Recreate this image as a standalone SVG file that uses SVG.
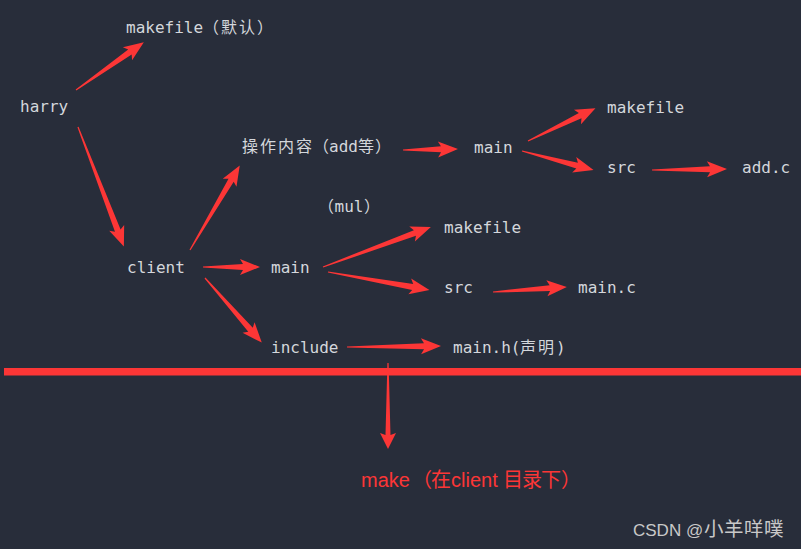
<svg xmlns="http://www.w3.org/2000/svg" width="801" height="549" viewBox="0 0 801 549">
<style>
.t{font-family:"DejaVu Sans Mono","Noto Sans CJK SC",monospace;font-size:16px;fill:#d4d7dc}
.c{font-family:"Noto Sans CJK SC",sans-serif}
.a{fill:#fc3636}
.r{font-family:"Liberation Sans","Noto Sans CJK SC",sans-serif;font-size:20px;fill:#fc3636}
.w{font-family:"Liberation Sans","Noto Sans CJK SC",sans-serif;font-size:17px;fill:#c8c8c8}
</style>
<rect width="801" height="549" fill="#282d3a"/>
<g id="connectors">
<polygon class="a" points="0,-0.6 66,-3 63,-8 83,0 63,8 66,3 0,0.6" transform="translate(76,90) rotate(-35.2)"/>
<polygon class="a" points="0,-0.6 111,-3 108,-8 128,0 108,8 111,3 0,0.6" transform="translate(78,127) rotate(69)"/>
<polygon class="a" points="0,-0.6 81,-3 78,-8 98,0 78,8 81,3 0,0.6" transform="translate(190,250) rotate(-59.5)"/>
<polygon class="a" points="0,-0.6 38,-3 35,-8 55,0 35,8 38,3 0,0.6" transform="translate(403,150) rotate(-1)"/>
<polygon class="a" points="0,-0.6 58,-3 55,-8 75,0 55,8 58,3 0,0.6" transform="translate(528,141) rotate(-25.9)"/>
<polygon class="a" points="0,-0.6 57,-3 54,-8 74,0 54,8 57,3 0,0.6" transform="translate(522,151) rotate(14.8)"/>
<polygon class="a" points="0,-0.6 58,-3 55,-8 75,0 55,8 58,3 0,0.6" transform="translate(652,170) rotate(-0.8)"/>
<polygon class="a" points="0,-0.6 40,-3 37,-8 57,0 37,8 40,3 0,0.6" transform="translate(203,267)"/>
<polygon class="a" points="0,-0.6 98,-3 95,-8 115,0 95,8 98,3 0,0.6" transform="translate(323,267) rotate(-20.3)"/>
<polygon class="a" points="0,-0.6 86,-3 83,-8 103,0 83,8 86,3 0,0.6" transform="translate(328,272) rotate(10)"/>
<polygon class="a" points="0,-0.6 57,-3 54,-8 74,0 54,8 57,3 0,0.6" transform="translate(493,292) rotate(-3.9)"/>
<polygon class="a" points="0,-0.6 69,-3 66,-8 86,0 66,8 69,3 0,0.6" transform="translate(205,278) rotate(48.7)"/>
<polygon class="a" points="0,-0.6 77,-3 74,-8 94,0 74,8 77,3 0,0.6" transform="translate(347,347) rotate(-0.6)"/>
<polygon class="a" points="0,-0.6 72,-2.5 70,-8 86,0 70,8 72,2.5 0,0.6" transform="translate(388,363) rotate(90)"/>
<rect class="a" x="4" y="368" width="797" height="7.5"/>
</g>
<g id="harry"><text class="t" x="20" y="112">harry</text></g>
<g id="makefile-default"><text class="t" x="126" y="33">makefile<tspan class="c" x="203 221 239 257">（默认）</tspan></text></g>
<g id="ops"><text class="t" y="152"><tspan class="c" x="242 260 278 296 313">操作内容（</tspan><tspan x="329">add</tspan><tspan class="c" x="358 375">等）</tspan></text></g>
<g id="main-add"><text class="t" x="474" y="153">main</text></g>
<g id="makefile-add"><text class="t" x="607" y="113">makefile</text></g>
<g id="src-add"><text class="t" x="607" y="173">src</text></g>
<g id="addc"><text class="t" x="742" y="173">add.c</text></g>
<g id="mul"><text class="t" y="212"><tspan class="c" x="318">（</tspan><tspan x="334.5">mul</tspan><tspan class="c" x="364">）</tspan></text></g>
<g id="client"><text class="t" x="127" y="273">client</text></g>
<g id="main-mul"><text class="t" x="271" y="273">main</text></g>
<g id="makefile-mul"><text class="t" x="444" y="233">makefile</text></g>
<g id="src-mul"><text class="t" x="444" y="293">src</text></g>
<g id="mainc"><text class="t" x="578" y="293">main.c</text></g>
<g id="include"><text class="t" x="271" y="353">include</text></g>
<g id="mainh"><text class="t" x="453" y="353">main.h(<tspan class="c" x="520 538">声明</tspan><tspan x="556">)</tspan></text></g>
<g id="make"><text class="r" x="361" y="487">make<tspan x="412 431">（在</tspan><tspan x="451">client</tspan><tspan x="503 522 541 561">目录下）</tspan></text></g>
<text class="w" y="536"><tspan x="633">CSDN @</tspan><tspan font-size="19.5" x="704 724 744 764">小羊咩噗</tspan></text>
</svg>
